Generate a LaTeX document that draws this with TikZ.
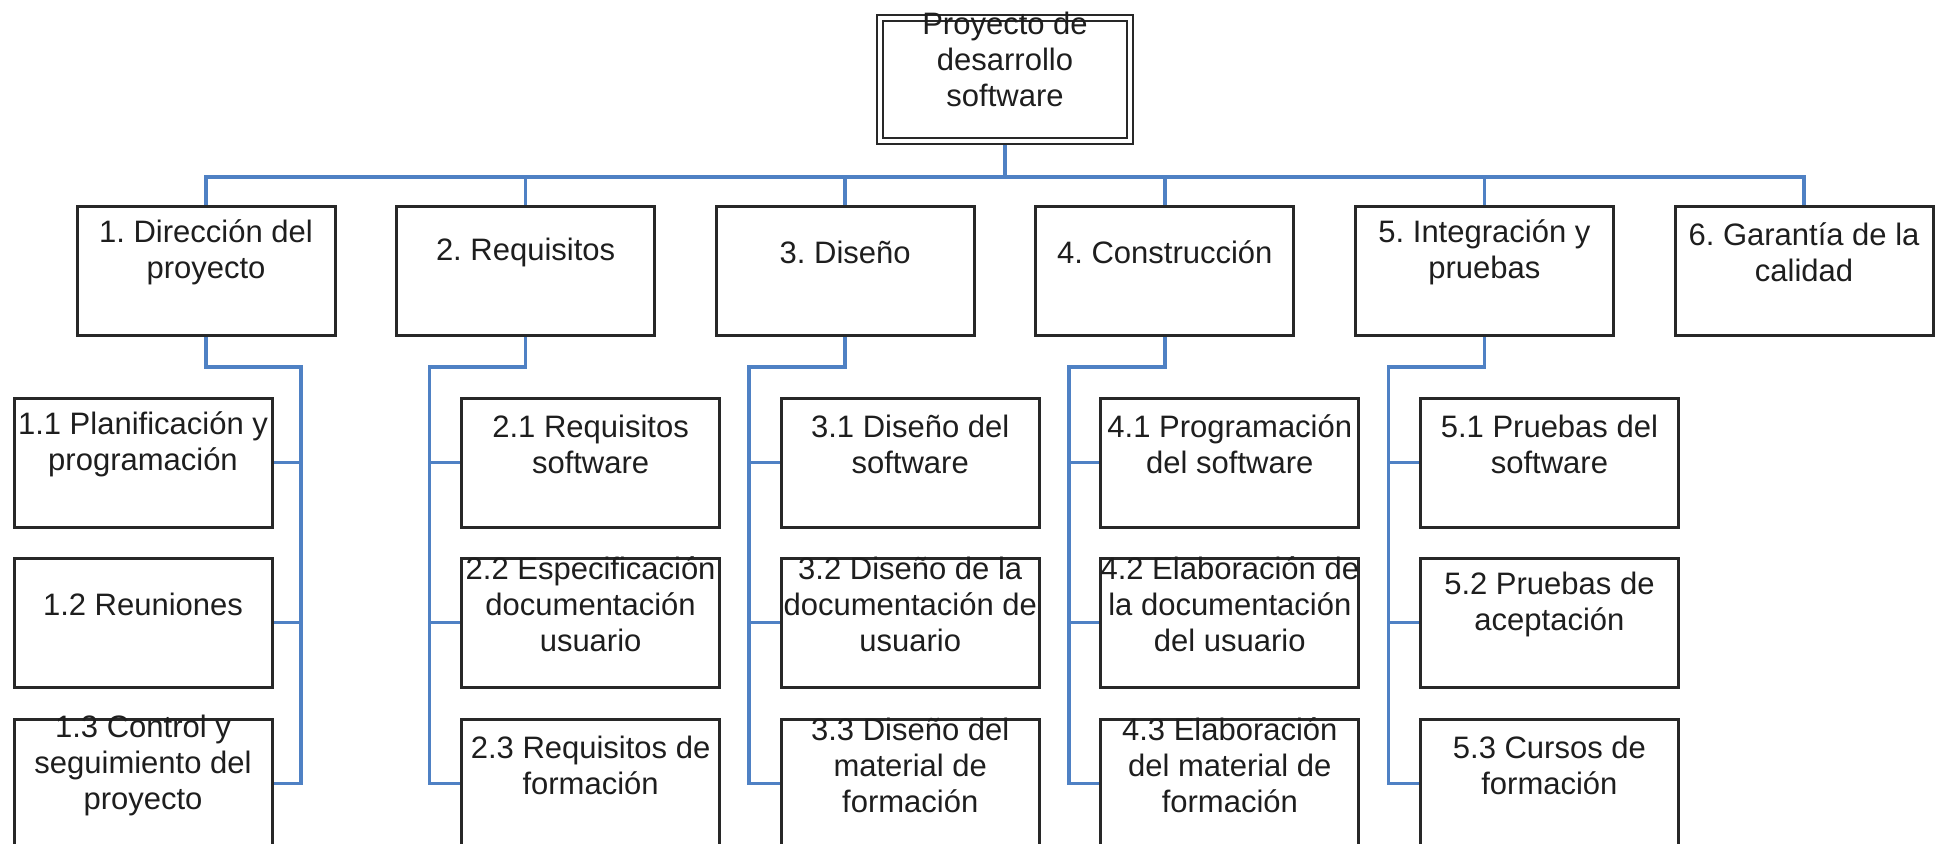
\documentclass[tikz,border=0pt]{standalone}
\usepackage{fontspec}
\setmainfont{Liberation Sans}
\usetikzlibrary{backgrounds}
\definecolor{linkblue}{RGB}{79,129,196}
\definecolor{boxline}{RGB}{40,40,40}
\definecolor{txtcol}{RGB}{30,30,30}
\frenchspacing
\begin{document}
\begin{tikzpicture}[x=0.5pt,y=-0.5pt,
  box/.style={draw=boxline, line width=1.5pt, minimum width=129pt, minimum height=64.5pt, inner sep=0pt, fill=white},
  topbox/.style={draw=boxline, double=white, double distance=2pt, line width=1.1pt, minimum width=125pt, minimum height=61.25pt, inner sep=0pt, fill=white},
  txt/.style={font=\fontsize{15.5pt}{18pt}\selectfont, align=center, text=txtcol, inner sep=0pt},
  conn/.style={draw=linkblue, line width=1.8pt},
]
\useasboundingbox (0,0) rectangle (1936,843);
\clip (0,0) rectangle (1936,843);

% top
\node[topbox] (top) at (1005,79.5) {};
\node[txt] (ttop) at ([yshift=10pt]top.center) {Proyecto de\\desarrollo\\software};

% level 1
\node[box] (b1) at (206,270.5) {};
\node[box] (b2) at (525.6,270.5) {};
\node[box] (b3) at (845.2,270.5) {};
\node[box] (b4) at (1164.8,270.5) {};
\node[box] (b5) at (1484.4,270.5) {};
\node[box] (b6) at (1804,270.5) {};
\node[txt] (t1) at ([yshift=9.25pt]b1.center) {1. Dirección del\\proyecto};
\node[txt] (t2) at ([yshift=9.25pt]b2.center) {2. Requisitos};
\node[txt] (t3) at ([yshift=9.25pt]b3.center) {3. Diseño};
\node[txt] (t4) at ([yshift=9.25pt]b4.center) {4. Construcción};
\node[txt] (t5) at ([yshift=9.25pt]b5.center) {5. Integración y\\pruebas};
\node[txt] (t6) at ([yshift=9.25pt]b6.center) {6. Garantía de la\\calidad};

% level 2 boxes
\node[box] (b11) at (143,462.5) {};
\node[box] (b12) at (143,622.5) {};
\node[box] (b13) at (143,783.5) {};
\node[box] (b21) at (590.6,462.5) {};
\node[box] (b22) at (590.6,622.5) {};
\node[box] (b23) at (590.6,783.5) {};
\node[box] (b31) at (910.2,462.5) {};
\node[box] (b32) at (910.2,622.5) {};
\node[box] (b33) at (910.2,783.5) {};
\node[box] (b41) at (1229.8,462.5) {};
\node[box] (b42) at (1229.8,622.5) {};
\node[box] (b43) at (1229.8,783.5) {};
\node[box] (b51) at (1549.4,462.5) {};
\node[box] (b52) at (1549.4,622.5) {};
\node[box] (b53) at (1549.4,783.5) {};

\node[txt] (t11) at ([yshift=9.25pt]b11.center) {1.1 Planificación y\\programación};
\node[txt] (t12) at ([yshift=9.25pt]b12.center) {1.2 Reuniones};
\node[txt] (t13) at ([yshift=9.25pt]b13.center) {1.3 Control y\\seguimiento del\\proyecto};
\node[txt] (t21) at ([yshift=9.25pt]b21.center) {2.1 Requisitos\\software};
\node[txt] (t22) at ([yshift=9.25pt]b22.center) {2.2 Especificación\\documentación\\usuario};
\node[txt] (t23) at ([yshift=9.25pt]b23.center) {2.3 Requisitos de\\formación};
\node[txt] (t31) at ([yshift=9.25pt]b31.center) {3.1 Diseño del\\software};
\node[txt] (t32) at ([yshift=9.25pt]b32.center) {3.2 Diseño de la\\documentación de\\usuario};
\node[txt] (t33) at ([yshift=9.25pt]b33.center) {3.3 Diseño del\\material de\\formación};
\node[txt] (t41) at ([yshift=9.25pt]b41.center) {4.1 Programación\\del software};
\node[txt] (t42) at ([yshift=9.25pt]b42.center) {4.2 Elaboración de\\la documentación\\del usuario};
\node[txt] (t43) at ([yshift=9.25pt]b43.center) {4.3 Elaboración\\del material de\\formación};
\node[txt] (t51) at ([yshift=9.25pt]b51.center) {5.1 Pruebas del\\software};
\node[txt] (t52) at ([yshift=9.25pt]b52.center) {5.2 Pruebas de\\aceptación};
\node[txt] (t53) at ([yshift=9.25pt]b53.center) {5.3 Cursos de\\formación};

% connectors
\coordinate (bus) at (1005,177);
\coordinate (v1) at (301,367);
\coordinate (v2) at (429.6,367);
\coordinate (v3) at (749.2,367);
\coordinate (v4) at (1068.8,367);
\coordinate (v5) at (1388.4,367);
\begin{scope}[on background layer]
\fill[white] (0,0) rectangle (1936,843);
\draw[conn] (top.south) -- (bus);
\draw[conn] (b1.north) |- (bus) -| (b6.north);
\draw[conn] (b2.north) -- (b2.north |- bus);
\draw[conn] (b3.north) -- (b3.north |- bus);
\draw[conn] (b4.north) -- (b4.north |- bus);
\draw[conn] (b5.north) -- (b5.north |- bus);
\draw[conn] (b1.south) |- (v1) |- (b13.east);
\draw[conn] (b11.east) -- (b11.east -| v1);
\draw[conn] (b12.east) -- (b12.east -| v1);
\draw[conn] (b2.south) |- (v2) |- (b23.west);
\draw[conn] (b21.west) -- (b21.west -| v2);
\draw[conn] (b22.west) -- (b22.west -| v2);
\draw[conn] (b3.south) |- (v3) |- (b33.west);
\draw[conn] (b31.west) -- (b31.west -| v3);
\draw[conn] (b32.west) -- (b32.west -| v3);
\draw[conn] (b4.south) |- (v4) |- (b43.west);
\draw[conn] (b41.west) -- (b41.west -| v4);
\draw[conn] (b42.west) -- (b42.west -| v4);
\draw[conn] (b5.south) |- (v5) |- (b53.west);
\draw[conn] (b51.west) -- (b51.west -| v5);
\draw[conn] (b52.west) -- (b52.west -| v5);
\end{scope}
\end{tikzpicture}
\end{document}
